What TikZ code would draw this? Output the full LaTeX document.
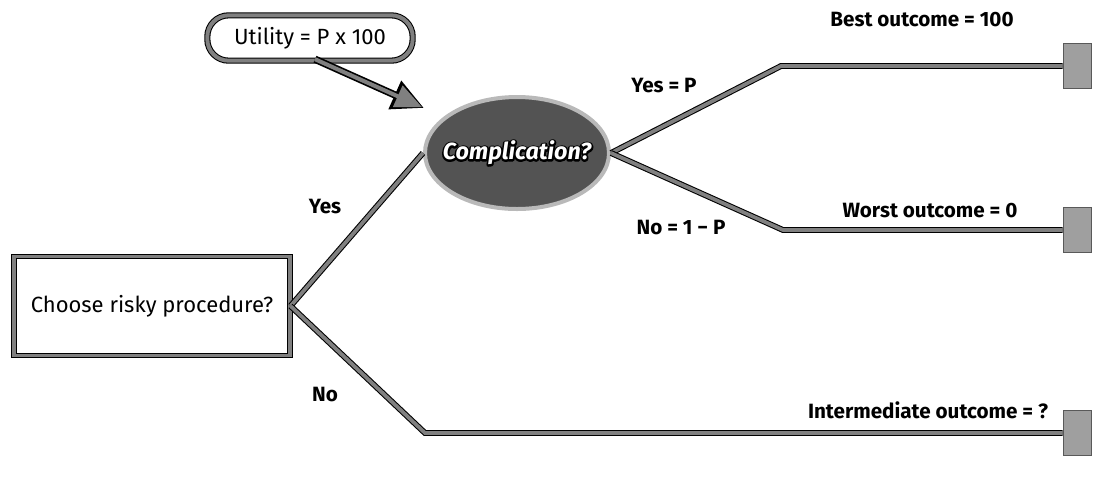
\documentclass[tikz,border=0pt]{standalone}
\usepackage{fontspec}
\setmainfont{Fira Sans}
\usetikzlibrary{shapes.geometric,arrows.meta,calc}
\begin{document}
\begin{tikzpicture}[x=0.75pt,y=-0.75pt,
  branch/.style={draw=black, line width=0.8pt, double=gray, double distance=2.8pt},
  lbl/.style={font=\fontsize{15.5}{18}\selectfont\bfseries, inner sep=0pt},
  endbox/.style={draw=gray!70!black, line width=0.5pt, fill=gray!75, minimum width=21pt, minimum height=34pt, inner sep=0pt},
  decbox/.style={draw=black, line width=0.8pt, double=gray, double distance=2.6pt, fill=white, minimum width=207pt, minimum height=74pt, inner sep=0pt, font=\fontsize{16.5}{19}\selectfont},
  chance/.style={ellipse, draw=gray!55, line width=3pt, fill=gray!50!black!90, minimum width=138pt, minimum height=84pt, inner sep=0pt},
  callout/.style={rounded corners=16pt, draw=black, line width=0.8pt, double=gray, double distance=3pt, fill=white, minimum width=154pt, minimum height=34pt, inner sep=0pt, font=\fontsize{16.5}{19}\selectfont},
  comptxt/.style={font=\fontsize{17.5}{20}\selectfont\bfseries\itshape, inner sep=0pt}
]
\useasboundingbox (0,0) rectangle (1093,487);

% nodes
\node[decbox] (choose) at (152,306) {Choose risky procedure?};
\node[chance] (comp) at (517,153) {};
\node[comptxt, text=white] (comptext) at (comp)
  {\rlap{\special{pdf:literal direct 0 0 0 RG 2.6 w 1 j 1 Tr}Complication?\special{pdf:literal direct 0 Tr}}Complication?};

\node[callout] (util) at (310,38) {Utility = P x 100};

\node[endbox] (endA) at (1077,66) {};
\node[endbox] (endB) at (1077,230) {};
\node[endbox] (endC) at (1077,433) {};

\coordinate (kA) at (781,66);
\coordinate (kB) at (783,230);
\coordinate (kC) at (425,433);
\coordinate (tipU) at (424,108);

% connectors
\draw[branch] (choose.east) -- (comp.west);
\draw[branch] (choose.east) -- (kC) -- (endC.west);
\draw[branch] (comp.east) -- (kA) -- (endA.west);
\draw[branch] (comp.east) -- (kB) -- (endB.west);

% callout arrow
\draw[black, line width=5.5pt, -{Triangle[length=24pt,width=22pt]}] (util.south) ++(5,-2) -- (tipU);
\draw[gray, line width=3pt, shorten >=1.6pt, -{Triangle[length=20pt,width=17pt]}] (util.south) ++(5,-2) -- (tipU);

% labels
\node[lbl] (lyes) at (325,207) {Yes};
\node[lbl] (lno) at (325,395) {No};
\node[lbl] (lyp) at (664,86) {Yes = P};
\node[lbl] (lnp) at (681,228) {No = 1 − P};
\node[lbl] (lbest) at (922,20) {Best outcome = 100};
\node[lbl] (lworst) at (930,211) {Worst outcome = 0};
\node[lbl] (lint) at (928,410) {Intermediate outcome = ?};
\end{tikzpicture}
\end{document}
